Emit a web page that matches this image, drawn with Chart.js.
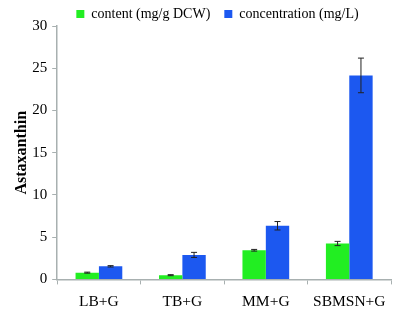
<!DOCTYPE html>
<html lang="en">
<head>
    <meta charset="UTF-8">
    <title>Astaxanthin</title>
    <script src="https://cdn.jsdelivr.net/npm/chart.js"></script>
    <style>
        body { margin: 0; padding: 0; background: #fff; }
        canvas { display: block; }
    </style>
</head>
<body>
    <canvas id="astaChart" width="405" height="322"></canvas>

    <script>
        // data
        const media = ['LB+G', 'TB+G', 'MM+G', 'SBMSN+G'];
        const contentVals = [0.8, 0.5, 3.45, 4.25];
        const contentErr = [0.06, 0.06, 0.1, 0.25];
        const concVals = [1.55, 2.9, 6.35, 24.15];
        const concErr = [0.08, 0.3, 0.5, 2.05];
        const yTicks = [0, 5, 10, 15, 20, 25, 30];

        const serif = "'Liberation Serif', 'Times New Roman', serif";

        // error bars drawn with the chart's own scales
        const errorBars = {
            id: 'errorBars',
            afterDatasetsDraw(chart) {
                const ctx = chart.ctx;
                const yScale = chart.scales.y;
                chart.data.datasets.forEach((ds, i) => {
                    const meta = chart.getDatasetMeta(i);
                    meta.data.forEach((bar, j) => {
                        const v = ds.data[j];
                        const e = ds.errors[j];
                        const yTop = yScale.getPixelForValue(v + e);
                        const yBot = yScale.getPixelForValue(v - e);
                        ctx.save();
                        ctx.strokeStyle = '#222';
                        ctx.lineWidth = 1;
                        ctx.beginPath();
                        ctx.moveTo(bar.x, yTop);
                        ctx.lineTo(bar.x, yBot);
                        ctx.moveTo(bar.x - 3, yTop);
                        ctx.lineTo(bar.x + 3, yTop);
                        ctx.moveTo(bar.x - 3, yBot);
                        ctx.lineTo(bar.x + 3, yBot);
                        ctx.stroke();
                        ctx.restore();
                    });
                });
            }
        };

        // legend: short box, centred a bit to the right like the original
        const legendFit = {
            id: 'legendFit',
            beforeLayout(chart) {
                const lg = chart.legend;
                if (!lg || lg._fitPatched) return;
                const fit = lg.fit;
                lg.fit = function () {
                    fit.call(this);
                    this.height = 33;
                };
                lg._fitPatched = true;
            },
            afterLayout(chart) {
                const lg = chart.legend;
                if (!lg) return;
                lg.left += 16;
                lg.right += 16;
            }
        };

        const ctx = document.getElementById('astaChart').getContext('2d');
        new Chart(ctx, {
            type: 'bar',
            data: {
                labels: media,
                datasets: [{
                    label: 'content (mg/g DCW)',
                    data: contentVals,
                    errors: contentErr,
                    backgroundColor: '#22ee22',
                    barPercentage: 1.0,
                    categoryPercentage: 0.56
                }, {
                    label: 'concentration (mg/L)',
                    data: concVals,
                    errors: concErr,
                    backgroundColor: '#1c58f0',
                    barPercentage: 1.0,
                    categoryPercentage: 0.56
                }]
            },
            options: {
                responsive: false,
                animation: false,
                layout: { padding: { top: -7, right: 14, bottom: 3, left: 12 } },
                plugins: {
                    legend: {
                        position: 'top',
                        labels: {
                            boxWidth: 8,
                            boxHeight: 8,
                            padding: 14,
                            color: '#000',
                            font: { family: serif, size: 14 }
                        }
                    },
                    tooltip: { enabled: false }
                },
                scales: {
                    x: {
                        offset: true,
                        border: { color: '#a8b0b0', width: 1.5 },
                        grid: { offset: true, drawOnChartArea: false, drawTicks: true, tickLength: 5, color: '#a8b0b0' },
                        ticks: { color: '#000', padding: 8, font: { family: serif, size: 15.5 } }
                    },
                    y: {
                        min: 0,
                        max: 30,
                        afterBuildTicks(axis) {
                            axis.ticks = yTicks.map(v => ({ value: v }));
                        },
                        border: { color: '#a8b0b0', width: 1.5 },
                        grid: { drawOnChartArea: false, drawTicks: true, tickLength: 5, color: '#a8b0b0' },
                        ticks: { color: '#000', padding: 5, font: { family: serif, size: 15 } },
                        title: {
                            display: true,
                            text: 'Astaxanthin',
                            color: '#000',
                            padding: { top: 0, bottom: -4 },
                            font: { family: serif, size: 16, weight: 'bold' }
                        }
                    }
                }
            },
            plugins: [errorBars, legendFit]
        });
    </script>
</body>
</html>
